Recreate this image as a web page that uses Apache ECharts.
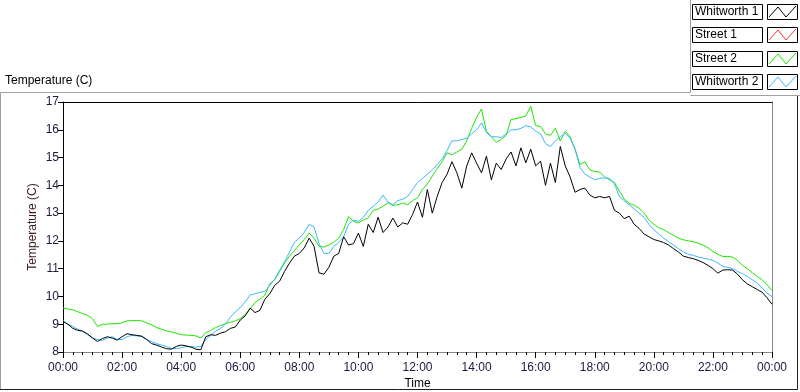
<!DOCTYPE html>
<html>
<head>
<meta charset="utf-8">
<script src="https://cdn.jsdelivr.net/npm/echarts@6/dist/echarts.min.js"></script>
<style>
  html, body { margin: 0; padding: 0; background: #fff; }
  #chart { width: 800px; height: 392px; }
</style>
</head>
<body>
<div id="chart"></div>
<script>
// one sample every 10 minutes, 00:00 .. 24:00 (hours)
const times = [];
for (let k = 0; k <= 144; k++) times.push(k / 6);

const seriesNames = ['Whitworth 1', 'Street 1', 'Street 2', 'Whitworth 2'];
const seriesColors = ['#000000', '#ff3333', '#1ee600', '#3bb8ff'];

const whitworth1 = [
  9.10, 9.00, 8.85, 8.78, 8.75, 8.65,
  8.50, 8.38, 8.48, 8.55, 8.50, 8.43,
  8.55, 8.66, 8.62, 8.60, 8.57, 8.45,
  8.30, 8.25, 8.18, 8.12, 8.10, 8.20,
  8.25, 8.22, 8.18, 8.10, 8.08, 8.55,
  8.62, 8.60, 8.68, 8.73, 8.85, 8.90,
  9.15, 9.30, 9.58, 9.42, 9.50, 9.90,
  10.10, 10.40, 10.55, 10.90, 11.20, 11.45,
  11.55, 11.75, 12.10, 11.80, 10.85, 10.80,
  11.05, 11.45, 11.55, 12.15, 11.85, 11.90,
  12.28, 11.80, 12.60, 12.30, 12.85, 12.30,
  12.50, 12.82, 12.50, 12.65, 12.60, 12.95,
  13.40, 12.85, 13.85, 13.00, 13.60, 14.10,
  14.40, 14.85, 14.45, 13.90, 14.70, 15.17,
  14.80, 14.45, 15.05, 14.20, 14.80, 14.57,
  14.95, 15.20, 14.70, 15.35, 14.81, 15.30,
  14.70, 14.87, 14.00, 14.80, 14.10, 15.40,
  14.70, 14.30, 13.75, 13.85, 13.90, 13.65,
  13.55, 13.60, 13.55, 13.60, 13.10, 13.00,
  12.80, 12.89, 12.60, 12.45, 12.25, 12.15,
  12.05, 12.00, 11.94, 11.85, 11.72, 11.60,
  11.45, 11.40, 11.36, 11.30, 11.22, 11.12,
  11.00, 10.84, 10.95, 10.96, 10.95, 10.80,
  10.60, 10.45, 10.35, 10.25, 10.15, 9.95,
  9.72
];

const street1 = [];

const street2 = [
  9.58, 9.55, 9.52, 9.45, 9.38, 9.32,
  9.20, 8.92, 9.00, 9.00, 9.02, 9.02,
  9.05, 9.12, 9.13, 9.13, 9.12, 9.05,
  8.98, 8.88, 8.82, 8.76, 8.72, 8.68,
  8.62, 8.61, 8.60, 8.58, 8.50, 8.70,
  8.78, 8.88, 8.95, 9.02, 9.07, 9.12,
  9.20, 9.35, 9.55, 9.78, 9.90, 10.05,
  10.45, 10.60, 10.90, 11.20, 11.45, 11.65,
  11.85, 12.05, 12.28, 12.10, 11.80, 11.78,
  11.85, 11.95, 12.10, 12.40, 12.88, 12.70,
  12.65, 12.75, 12.83, 13.10, 13.15, 13.25,
  13.37, 13.28, 13.30, 13.37, 13.30, 13.45,
  13.55, 13.85, 14.05, 14.33, 14.60, 14.85,
  15.17, 15.10, 15.20, 15.30, 15.60, 16.05,
  16.45, 16.75, 15.95, 15.75, 15.55, 15.65,
  15.80, 16.37, 16.40, 16.45, 16.50, 16.85,
  16.15, 16.12, 15.85, 15.80, 16.05, 15.60,
  15.95, 15.75, 15.30, 14.75, 14.85, 14.55,
  14.50, 14.48, 14.30, 14.20, 14.10, 13.80,
  13.50, 13.35, 13.28, 13.18, 13.00, 12.75,
  12.60, 12.48, 12.40, 12.30, 12.20, 12.10,
  12.04, 12.00, 11.97, 11.92, 11.85, 11.75,
  11.62, 11.52, 11.44, 11.44, 11.42, 11.30,
  11.12, 11.00, 10.85, 10.72, 10.60, 10.42,
  10.21
];

const whitworth2 = [
  9.13, 9.00, 8.92, 8.82, 8.75, 8.62,
  8.52, 8.45, 8.42, 8.50, 8.55, 8.45,
  8.45, 8.55, 8.60, 8.58, 8.55, 8.45,
  8.37, 8.30, 8.25, 8.20, 8.13, 8.12,
  8.15, 8.20, 8.19, 8.18, 8.20, 8.45,
  8.60, 8.75, 8.85, 9.00, 9.25, 9.45,
  9.60, 9.80, 10.05, 10.10, 10.15, 10.18,
  10.40, 10.62, 10.95, 11.25, 11.60, 11.95,
  12.10, 12.30, 12.60, 12.50, 11.90, 11.55,
  11.55, 11.80, 11.95, 12.15, 12.60, 12.75,
  12.70, 12.85, 13.10, 13.25, 13.40, 13.65,
  13.40, 13.30, 13.45, 13.50, 13.60, 13.85,
  14.10, 14.25, 14.40, 14.55, 14.75, 14.95,
  15.25, 15.60, 15.60, 15.65, 15.70, 15.85,
  16.00, 16.25, 15.90, 15.75, 15.75, 15.72,
  15.85, 16.00, 16.00, 16.05, 16.15, 16.10,
  15.95, 15.85, 15.50, 15.40, 15.60, 15.75,
  15.88, 15.70, 15.30, 14.65, 14.40, 14.30,
  14.20, 14.25, 14.27, 14.25, 14.05, 13.60,
  13.45, 13.30, 13.15, 13.00, 12.85, 12.60,
  12.40, 12.25, 12.10, 11.97, 11.85, 11.72,
  11.60, 11.52, 11.48, 11.42, 11.38, 11.34,
  11.30, 11.20, 11.08, 11.05, 11.00, 10.90,
  10.82, 10.72, 10.60, 10.48, 10.30, 10.12,
  10.00
];

const seriesValues = [whitworth1, street1, street2, whitworth2];

const FONT = '"Liberation Sans", Arial, sans-serif';

const pad = n => (n < 10 ? '0' : '') + n;

// legend boxes drawn by hand, LabVIEW style (text box + line sample box)
const legendItems = [];
seriesNames.forEach((name, i) => {
  const top = 4 + Math.round(i * 23.3);
  legendItems.push(
    { type: 'rect', shape: { x: 692.5, y: top + 0.5, width: 70, height: 15 },
      style: { fill: '#fff', stroke: '#000', lineWidth: 1 } },
    { type: 'text', x: 695, y: top + 8,
      style: { text: name, fill: '#000', font: '12px ' + FONT, verticalAlign: 'middle' } },
    { type: 'rect', shape: { x: 767.5, y: top + 0.5, width: 30, height: 15 },
      style: { fill: '#fff', stroke: '#000', lineWidth: 1 } },
    { type: 'polyline',
      shape: { points: [[769, top + 13], [778, top + 3], [786, top + 13], [796, top + 2]] },
      style: { stroke: seriesColors[i], lineWidth: 1, fill: null } }
  );
});

const chart = echarts.init(document.getElementById('chart'));

const option = {
  animation: false,
  backgroundColor: '#fff',
  textStyle: { fontFamily: FONT },
  grid: { left: 63, right: 28, top: 102, bottom: 40, containLabel: false, outerBoundsMode: 'none' },
  xAxis: [
    {
      type: 'value', min: 0, max: 24, interval: 2,
      name: 'Time', nameLocation: 'middle', nameGap: 26, nameMoveOverlap: false,
      nameTextStyle: { color: '#000', fontSize: 12 },
      axisLine: { onZero: false, lineStyle: { color: '#888', width: 1 } },
      axisTick: { show: true, inside: false, length: 6, lineStyle: { color: '#000' } },
      minorTick: { show: true, splitNumber: 6, length: 3, lineStyle: { color: '#000' } },
      splitLine: { show: false },
      axisLabel: { color: '#1a1a40', fontSize: 12, margin: 10,
        formatter: v => pad(v % 24) + ':00' }
    },
    {
      type: 'value', min: 0, max: 24, position: 'top',
      axisLine: { show: true, onZero: false, lineStyle: { color: '#000' } },
      axisTick: { show: false }, axisLabel: { show: false }, splitLine: { show: false }
    }
  ],
  yAxis: [
    {
      type: 'value', min: 8, max: 17, interval: 1,
      name: 'Temperature (C)', nameLocation: 'middle', nameGap: 24, nameMoveOverlap: false,
      nameTextStyle: { color: '#3a1a1a', fontSize: 12 },
      axisLine: { show: true, onZero: false, lineStyle: { color: '#000' } },
      axisTick: { show: true, inside: false, length: 5, lineStyle: { color: '#000' } },
      splitLine: { show: false },
      axisLabel: { color: '#1a1a40', fontSize: 12, margin: 4 }
    },
    {
      type: 'value', min: 8, max: 17, position: 'right',
      axisLine: { show: true, onZero: false, lineStyle: { color: '#888' } },
      axisTick: { show: false }, axisLabel: { show: false }, splitLine: { show: false }
    }
  ],
  series: seriesNames.map((name, i) => ({
    name: name,
    type: 'line',
    xAxisIndex: 0,
    yAxisIndex: 0,
    data: seriesValues[i].map((v, k) => [times[k], v]),
    showSymbol: false,
    lineStyle: { color: seriesColors[i], width: 1 },
    itemStyle: { color: seriesColors[i] },
    z: i === 0 ? 5 : 3
  })),
  graphic: [
    // outer frame, sunken look: grey top/left, black bottom/right
    { type: 'polyline', shape: { points: [[0.5, 390], [0.5, 92.5], [690.5, 92.5], [690.5, 0]] },
      style: { stroke: '#a0a0a0', lineWidth: 1, fill: null } },
    { type: 'polyline', shape: { points: [[690.5, 95.5], [800, 95.5]] },
      style: { stroke: '#a0a0a0', lineWidth: 1, fill: null } },
    { type: 'polyline', shape: { points: [[0, 389.5], [797.5, 389.5], [797.5, 96]] },
      style: { stroke: '#202020', lineWidth: 1, fill: null } },
    { type: 'text', x: 5, y: 81,
      style: { text: 'Temperature (C)', fill: '#000', font: '12px ' + FONT, verticalAlign: 'middle' } }
  ].concat(legendItems)
};

chart.setOption(option);
window.addEventListener('resize', () => chart.resize());
</script>
</body>
</html>
